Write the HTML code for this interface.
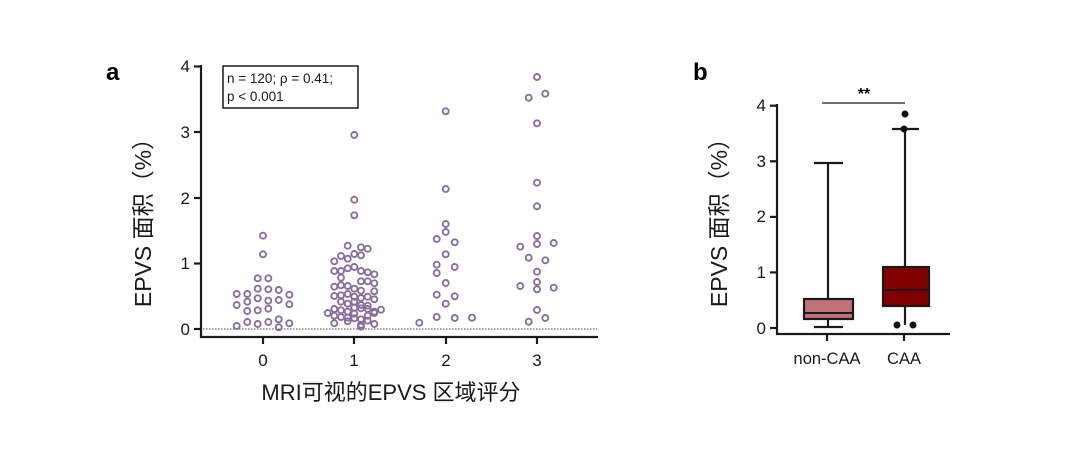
<!DOCTYPE html>
<html><head><meta charset="utf-8"><style>
body{margin:0;background:#fff;}
svg{display:block;font-family:"Liberation Sans","Noto Sans CJK SC",sans-serif;}
</style></head><body>
<svg id="s" width="1080" height="460" viewBox="0 0 1080 460" xmlns="http://www.w3.org/2000/svg">
<rect width="1080" height="460" fill="#fff"/>
<!-- Panel a -->
<text x="106" y="80" font-size="24" font-weight="bold">a</text>
<g stroke="#1a1a1a" stroke-width="2.2" fill="none">
<line x1="201" y1="65" x2="201" y2="338"/>
<line x1="200" y1="337" x2="598" y2="337"/>
<line x1="194" y1="66.5" x2="201" y2="66.5"/>
<line x1="194" y1="132" x2="201" y2="132"/>
<line x1="194" y1="198" x2="201" y2="198"/>
<line x1="194" y1="263.5" x2="201" y2="263.5"/>
<line x1="194" y1="329" x2="201" y2="329"/>
<line x1="263" y1="337" x2="263" y2="344"/>
<line x1="354" y1="337" x2="354" y2="344"/>
<line x1="446" y1="337" x2="446" y2="344"/>
<line x1="537" y1="337" x2="537" y2="344"/>
</g>
<line x1="203" y1="329" x2="597" y2="329" stroke="#444" stroke-width="1" stroke-dasharray="1.5,1.5"/>
<g font-size="17" text-anchor="end" fill="#1a1a1a">
<text x="190" y="72">4</text><text x="190" y="138">3</text><text x="190" y="204">2</text><text x="190" y="269">1</text><text x="190" y="335">0</text>
</g>
<g font-size="17" text-anchor="middle" fill="#1a1a1a">
<text x="263" y="366">0</text><text x="354" y="366">1</text><text x="446" y="366">2</text><text x="537" y="366">3</text>
</g>
<text x="391" y="400" font-size="22" text-anchor="middle" fill="#1a1a1a">MRI可视的EPVS 区域评分</text>
<text transform="translate(151,217) rotate(-90)" font-size="23" text-anchor="middle" fill="#1a1a1a">EPVS 面积（%）</text>
<rect x="223" y="66" width="135" height="42" fill="#fff" stroke="#1a1a1a" stroke-width="1.5"/>
<text x="227" y="83" font-size="13.5" fill="#1a1a1a">n = 120; ρ = 0.41;</text>
<text x="227" y="101" font-size="13.5" fill="#1a1a1a">p &lt; 0.001</text>
<g id="dots" fill="none" stroke="#8a6ea0" stroke-width="1.9"></g>

<!-- Panel b -->
<text x="693" y="80" font-size="24" font-weight="bold">b</text>
<g stroke="#1a1a1a" stroke-width="2.2" fill="none">
<line x1="777" y1="104" x2="777" y2="335"/>
<line x1="776" y1="334" x2="950" y2="334"/>
<line x1="770" y1="105.7" x2="777" y2="105.7"/>
<line x1="770" y1="161.3" x2="777" y2="161.3"/>
<line x1="770" y1="216.9" x2="777" y2="216.9"/>
<line x1="770" y1="272.4" x2="777" y2="272.4"/>
<line x1="770" y1="328" x2="777" y2="328"/>
<line x1="827" y1="334" x2="827" y2="341"/>
<line x1="904" y1="334" x2="904" y2="341"/>
<line x1="828" y1="163" x2="828" y2="299"/>
<line x1="814" y1="163" x2="843" y2="163"/>
<line x1="828" y1="319" x2="828" y2="327"/>
<line x1="814" y1="327" x2="843" y2="327"/>
<line x1="905" y1="129" x2="905" y2="267"/>
<line x1="892" y1="129" x2="919" y2="129"/>
<line x1="905" y1="306" x2="905" y2="325"/>
</g>
<rect x="804" y="299" width="49" height="20" fill="#bf7378" stroke="#1a1a1a" stroke-width="2.2"/>
<line x1="804" y1="313" x2="853" y2="313" stroke="#1a1a1a" stroke-width="2"/>
<rect x="883" y="267" width="46" height="39" fill="#800000" stroke="#1a1a1a" stroke-width="2.2"/>
<line x1="883" y1="290" x2="929" y2="290" stroke="#1a1a1a" stroke-width="2"/>
<g fill="#111">
<circle cx="905" cy="114" r="3.5"/><circle cx="904" cy="129" r="3.5"/>
<circle cx="897" cy="325" r="3.5"/><circle cx="913" cy="325" r="3.5"/>
</g>
<line x1="822" y1="103" x2="905" y2="103" stroke="#1a1a1a" stroke-width="1.2"/>
<text x="864" y="99" font-size="16" font-weight="bold" text-anchor="middle">**</text>
<g font-size="17" text-anchor="end" fill="#1a1a1a">
<text x="766" y="111">4</text><text x="766" y="167">3</text><text x="766" y="222">2</text><text x="766" y="278">1</text><text x="766" y="334">0</text>
</g>
<g font-size="16.5" text-anchor="middle" fill="#1a1a1a">
<text x="827" y="364">non-CAA</text><text x="904" y="364">CAA</text>
</g>
<text transform="translate(727,217) rotate(-90)" font-size="23" text-anchor="middle" fill="#1a1a1a">EPVS 面积（%）</text>
</svg>
<script>
var d=[[489,557],[489,613],[473,685],[505,685],[410,732],[442,732],[473,716],[505,718],[536,720],[568,734],[410,765],[442,755],[473,745],[505,752],[536,750],[568,763],[442,783],[473,781],[505,776],[410,828],[442,816],[473,822],[505,816],[536,808],[568,820],[536,832],
[763,255],[763,449],[763,496],[743,587],[783,592],[803,596],[723,618],[743,626],[763,612],[783,616],[703,634],[703,663],[723,663],[743,655],[763,651],[783,663],[803,667],[823,673],[723,683],[703,710],[723,706],[743,708],[763,716],[783,722],[803,694],[823,700],[783,694],[823,724],[703,738],[723,736],[743,732],[763,740],[783,744],[803,740],[823,748],[723,755],[743,761],[763,755],[783,765],[803,767],[703,777],[723,781],[743,785],[763,773],[783,775],[803,777],[823,785],[843,779],[683,789],[703,797],[723,801],[743,803],[763,805],[783,808],[803,797],[823,789],[703,820],[743,814],[783,824],[803,812],[823,822],[783,830],[763,791],
[1037,184],[1037,417],[1037,522],[1037,546],[1010,567],[1064,577],[1037,613],[1010,644],[1064,651],[1010,669],[1037,699],[1010,734],[1064,739],[1037,761],[958,818],[1010,801],[1064,804],[1116,803],
[1311,81],[1286,143],[1336,131],[1311,220],[1311,398],[1311,469],[1311,558],[1261,590],[1311,582],[1361,579],[1286,623],[1336,631],[1311,665],[1311,696],[1261,708],[1311,718],[1361,713],[1311,780],[1336,804],[1286,815]];
var g=document.getElementById('dots'),h='';
d.forEach(function(p){h+='<circle cx="'+(100+p[0]/3).toFixed(1)+'" cy="'+(50+p[1]/3).toFixed(1)+'" r="3"/>';});
g.innerHTML=h;
</script>
</body></html>
